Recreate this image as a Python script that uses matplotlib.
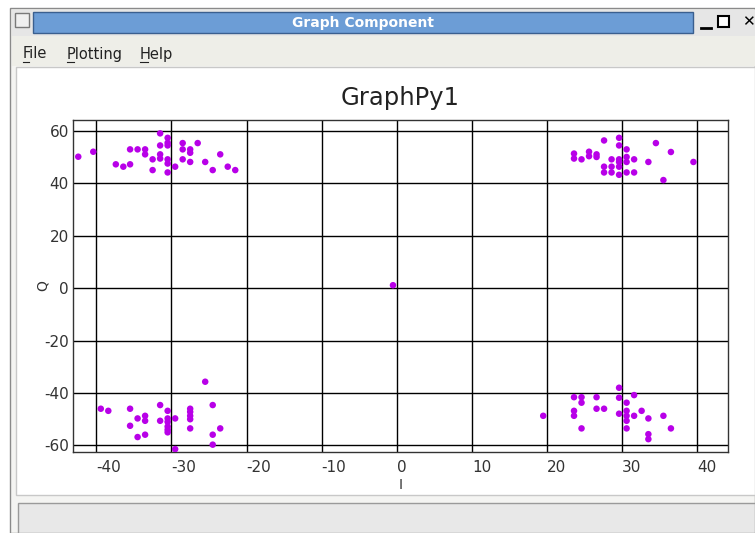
import matplotlib
matplotlib.use("Agg")
from matplotlib import pyplot as plt
from matplotlib.patches import Rectangle

plt.rcParams["axes.unicode_minus"] = False

W, H = 755, 533

# cluster data (I, Q)
top_left_i = [-31.5, -30.5, -30.5, -30.5, -31.5, -28.5, -26.5, -28.5, -27.5, -27.5,
              -35.5, -34.5, -33.5, -33.5, -31.5, -40.4, -42.4, -31.5, -32.5, -30.5,
              -28.5, -27.5, -30.5, -29.5, -23.5, -25.5, -37.4, -36.4, -35.5, -22.5,
              -21.5, -24.5, -32.5, -30.5]
top_left_q = [59.0, 57.3, 55.4, 54.4, 54.4, 55.3, 55.3, 52.9, 52.9, 51.6,
              52.9, 52.9, 52.9, 51.0, 51.0, 52.0, 50.1, 49.4, 49.1, 49.1,
              49.1, 48.1, 47.5, 46.3, 51.0, 48.1, 47.2, 46.3, 47.2, 46.3,
              45.0, 45.0, 45.0, 44.1]

top_right_i = [29.6, 27.6, 29.6, 34.5, 30.6, 36.5, 23.6, 23.6, 24.6, 25.6,
               25.6, 26.6, 26.6, 28.6, 29.6, 29.6, 30.6, 30.6, 31.6, 33.5,
               39.5, 27.6, 28.6, 29.6, 27.6, 28.6, 29.6, 30.6, 31.6, 35.5]
top_right_q = [57.3, 56.3, 54.4, 55.3, 52.9, 51.9, 51.3, 49.4, 49.1, 52.0,
               50.3, 51.0, 50.0, 49.1, 49.1, 48.1, 50.0, 48.1, 49.1, 48.1,
               48.1, 46.3, 46.3, 46.3, 44.1, 44.1, 43.2, 44.1, 44.1, 41.2]

bottom_left_i = [-25.5, -39.4, -38.4, -35.5, -31.5, -30.5, -27.5, -27.5, -24.5, -33.5,
                 -34.5, -33.5, -31.5, -30.5, -30.5, -29.5, -27.5, -27.5, -35.5, -30.5,
                 -30.5, -30.5, -27.5, -23.5, -34.5, -33.5, -24.5, -24.5, -29.5]
bottom_left_q = [-35.7, -46.0, -46.8, -46.0, -44.6, -46.8, -46.0, -47.2, -44.6, -48.7,
                 -49.7, -50.6, -50.6, -49.7, -51.0, -49.7, -48.7, -50.0, -52.5, -52.8,
                 -54.0, -55.0, -53.5, -53.5, -56.8, -55.9, -55.9, -59.7, -61.4]

bottom_right_i = [29.6, 31.6, 23.6, 24.6, 24.6, 26.6, 29.6, 30.6, 26.6, 27.6,
                  23.6, 23.6, 19.5, 29.6, 30.6, 30.6, 30.6, 31.6, 32.6, 33.5,
                  35.5, 24.6, 30.6, 36.5, 33.5, 33.5]
bottom_right_q = [-38.0, -40.8, -41.6, -41.6, -43.7, -41.6, -41.8, -43.7, -46.0, -46.0,
                  -46.8, -48.7, -48.7, -47.9, -46.8, -48.7, -50.6, -48.7, -46.8, -49.7,
                  -48.7, -53.5, -53.5, -53.5, -55.7, -57.6]

center_i = [-0.5]
center_q = [1.1]

x_ticks = [-40, -30, -20, -10, 0, 10, 20, 30, 40]
y_ticks = [-60, -40, -20, 0, 20, 40, 60]

dot_color = "#b800e8"


def fx(px):
    return px / W


def fy(py):
    return 1 - py / H


fig = plt.figure(figsize=(W / 100, H / 100), dpi=100)
fig.patch.set_facecolor("white")

# --- window chrome (drawn behind the axes) ---
def rect(x0, y0, x1, y1, **kw):
    fig.patches.append(Rectangle((fx(x0), fy(y1)), fx(x1) - fx(x0), fy(y0) - fy(y1),
                                 transform=fig.transFigure, zorder=-5, **kw))


def hline(x0, x1, y, **kw):
    fig.lines.append(plt.Line2D([fx(x0), fx(x1)], [fy(y), fy(y)],
                                transform=fig.transFigure, **kw))


rect(10, 8, 755, 533, facecolor="#f4f4f2", edgecolor="#8a8a8a", lw=1)
rect(12, 10, 755, 36, facecolor="#e6e6e6", edgecolor="none")
rect(15, 13, 29, 27, facecolor="#f0f0f0", edgecolor="#7a7a7a", lw=1)
rect(33, 12, 693, 33, facecolor="#6c9dd6", edgecolor="#3a5f8f", lw=1)
fig.text(fx(363), fy(23), "Graph Component", color="white", fontsize=10,
         fontweight="bold", ha="center", va="center")
hline(701, 711, 28, color="black", lw=2)
rect(718, 16, 729, 27, facecolor="white", edgecolor="black", lw=1.5)
fig.text(fx(748), fy(22), "✕", fontsize=11, fontweight="bold", ha="center", va="center")
rect(12, 36, 755, 66, facecolor="#eeeee8", edgecolor="none")
for label, xpos, ulen in [("File", 23, 6), ("Plotting", 67, 7), ("Help", 140, 8)]:
    fig.text(fx(xpos), fy(54), label, fontsize=10.5, ha="left", va="center", color="#222222")
    hline(xpos, xpos + ulen, 62, color="#222222", lw=0.8)
rect(16, 67, 755, 495, facecolor="white", edgecolor="#c8c8c8", lw=1)
rect(18, 503, 755, 533, facecolor="#e8e8e8", edgecolor="#9a9a9a", lw=1)

# --- plot ---
ax = fig.add_axes([fx(73), fy(452), fx(728) - fx(73), fy(120) - fy(452)])
ax.set_zorder(5)
for xs, ys in [(top_left_i, top_left_q), (top_right_i, top_right_q),
               (bottom_left_i, bottom_left_q), (bottom_right_i, bottom_right_q),
               (center_i, center_q)]:
    ax.scatter(xs, ys, s=22, color=dot_color, edgecolors="none", zorder=3)

ax.set_xlim(-43.1, 44.1)
ax.set_ylim(-62.5, 64.1)
ax.set_xticks(x_ticks)
ax.set_yticks(y_ticks)
ax.grid(True, color="black", lw=1)
ax.set_axisbelow(True)
ax.tick_params(length=0, labelsize=11, labelcolor="#333333")
ax.tick_params(axis="x", pad=6)
ax.tick_params(axis="y", pad=3)
for lab in ax.get_xticklabels():
    lab.set_horizontalalignment("left")
for sp in ax.spines.values():
    sp.set_color("#333333")
    sp.set_linewidth(1)

ax.set_title("GraphPy1", fontsize=17.5, color="#222222", pad=11)
ax.set_xlabel("I", fontsize=10, color="#333333", labelpad=2)
ax.set_ylabel("Q", fontsize=10, color="#333333", labelpad=-4)

fig.savefig("out.png", dpi=100)
